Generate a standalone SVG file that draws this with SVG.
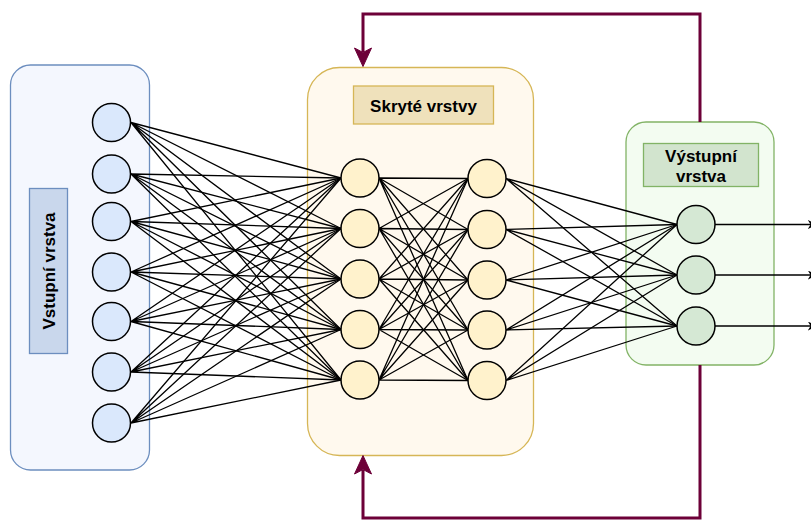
<svg xmlns="http://www.w3.org/2000/svg" width="811" height="520" viewBox="0 0 811 520">
  <defs>
    <style>
      .lbl { font-family: "Liberation Sans", Arial, sans-serif; font-weight: bold; font-size: 17px; fill: #000; text-anchor: middle; }
      .edge { fill: none; stroke: #000; stroke-width: 1.3; }
      .loop { fill: none; stroke: #6d0038; stroke-width: 3; }
      .head { fill: #6d0038; stroke: #6d0038; stroke-width: 1; }
      .in { fill: #dae8fc; stroke: #000; stroke-width: 1.5; }
      .hid { fill: #fff2cc; stroke: #000; stroke-width: 1.5; }
      .out { fill: #d5e8d4; stroke: #000; stroke-width: 1.5; }
    </style>
    <marker id="tip" viewBox="0 0 10 10" refX="9" refY="5" markerWidth="9" markerHeight="9" markerUnits="userSpaceOnUse" orient="auto">
      <path d="M0 0 L10 5 L0 10 L3 5 Z" fill="#000"/>
    </marker>
  </defs>

  <rect width="811" height="520" fill="#fff"/>

  <!-- layer containers -->
  <g id="input-layer">
    <rect x="10.5" y="65" width="139" height="405" rx="20" fill="#f4f7fe" stroke="#6c8ebf" stroke-width="1.3"/>
    <rect x="29.5" y="188.5" width="38" height="165" fill="#c9d7ec" stroke="#6c8ebf" stroke-width="1.3"/>
    <text class="lbl" transform="translate(48.5 271) rotate(-90)" x="0" y="6">Vstupní vrstva</text>
  </g>
  <g id="hidden-layers">
    <rect x="307.5" y="67.5" width="226" height="388" rx="32" fill="#fff9ee" stroke="#d6b656" stroke-width="1.3"/>
    <rect x="353.5" y="86" width="140" height="38" fill="#efe1bb" stroke="#d6b656" stroke-width="1.3"/>
    <text class="lbl" x="423.5" y="111.5">Skryté vrstvy</text>
  </g>
  <g id="output-layer">
    <rect x="626" y="122" width="148" height="243" rx="20" fill="#f3fcf1" stroke="#82b366" stroke-width="1.3"/>
    <rect x="643.5" y="143.5" width="115" height="43" fill="#d2e4ce" stroke="#82b366" stroke-width="1.3"/>
    <text class="lbl" x="701" y="161.5">Výstupní</text>
    <text class="lbl" x="701" y="181.5">vrstva</text>
  </g>

  <!-- connectors -->
  <g id="connectors">
    <!-- input -> first hidden layer -->
    <path class="edge" d="M131 122.5L341 178M131 122.5L341 228.5M131 122.5L341 279M131 122.5L341 329.5M131 122.5L341 380"/>
    <path class="edge" d="M131 174L341 178M131 174L341 228.5M131 174L341 279M131 174L341 329.5M131 174L341 380"/>
    <path class="edge" d="M131 221.5L341 178M131 221.5L341 228.5M131 221.5L341 279M131 221.5L341 329.5M131 221.5L341 380"/>
    <path class="edge" d="M131 272L341 178M131 272L341 228.5M131 272L341 279M131 272L341 329.5M131 272L341 380"/>
    <path class="edge" d="M131 321.5L341 178M131 321.5L341 228.5M131 321.5L341 279M131 321.5L341 329.5M131 321.5L341 380"/>
    <path class="edge" d="M131 372L341 178M131 372L341 228.5M131 372L341 279M131 372L341 329.5M131 372L341 380"/>
    <path class="edge" d="M131 423L341 178M131 423L341 228.5M131 423L341 279M131 423L341 329.5M131 423L341 380"/>
    <!-- first hidden -> second hidden layer -->
    <path class="edge" d="M379 178L468 178.5M379 178L468 229.5M379 178L468 280M379 178L468 330M379 178L468 380.5"/>
    <path class="edge" d="M379 228.5L468 178.5M379 228.5L468 229.5M379 228.5L468 280M379 228.5L468 330M379 228.5L468 380.5"/>
    <path class="edge" d="M379 279L468 178.5M379 279L468 229.5M379 279L468 280M379 279L468 330M379 279L468 380.5"/>
    <path class="edge" d="M379 329.5L468 178.5M379 329.5L468 229.5M379 329.5L468 280M379 329.5L468 330M379 329.5L468 380.5"/>
    <path class="edge" d="M379 380L468 178.5M379 380L468 229.5M379 380L468 280M379 380L468 330M379 380L468 380.5"/>
    <!-- second hidden -> output layer -->
    <path class="edge" d="M506 178.5L677 224.5M506 178.5L677 275M506 178.5L677 326"/>
    <path class="edge" d="M506 229.5L677 224.5M506 229.5L677 275M506 229.5L677 326"/>
    <path class="edge" d="M506 280L677 224.5M506 280L677 275M506 280L677 326"/>
    <path class="edge" d="M506 330L677 224.5M506 330L677 275M506 330L677 326"/>
    <path class="edge" d="M506 380.5L677 224.5M506 380.5L677 275M506 380.5L677 326"/>
    <!-- outputs -->
    <path class="edge" marker-end="url(#tip)" d="M715 224.5L816 224.5"/>
    <path class="edge" marker-end="url(#tip)" d="M715 275L816 275"/>
    <path class="edge" marker-end="url(#tip)" d="M715 326L816 326"/>
    <!-- feedback loops -->
    <path class="loop" d="M700 122V14H363V52"/>
    <polygon class="head" points="354.5,48 363,66.5 371.5,48 363,52.5"/>
    <path class="loop" d="M700 365V518H363V470"/>
    <polygon class="head" points="354.5,474 363,455.5 371.5,474 363,469.5"/>
  </g>

  <!-- neurons -->
  <g id="in1"><circle class="in" cx="111.5" cy="122.5" r="19"/></g>
  <g id="in2"><circle class="in" cx="111.5" cy="174" r="19"/></g>
  <g id="in3"><circle class="in" cx="111.5" cy="221.5" r="19"/></g>
  <g id="in4"><circle class="in" cx="111.5" cy="272" r="19"/></g>
  <g id="in5"><circle class="in" cx="111.5" cy="321.5" r="19"/></g>
  <g id="in6"><circle class="in" cx="111.5" cy="372" r="19"/></g>
  <g id="in7"><circle class="in" cx="111.5" cy="423" r="19"/></g>

  <g id="h1a"><circle class="hid" cx="360" cy="178" r="19"/></g>
  <g id="h1b"><circle class="hid" cx="360" cy="228.5" r="19"/></g>
  <g id="h1c"><circle class="hid" cx="360" cy="279" r="19"/></g>
  <g id="h1d"><circle class="hid" cx="360" cy="329.5" r="19"/></g>
  <g id="h1e"><circle class="hid" cx="360" cy="380" r="19"/></g>

  <g id="h2a"><circle class="hid" cx="487" cy="178.5" r="19"/></g>
  <g id="h2b"><circle class="hid" cx="487" cy="229.5" r="19"/></g>
  <g id="h2c"><circle class="hid" cx="487" cy="280" r="19"/></g>
  <g id="h2d"><circle class="hid" cx="487" cy="330" r="19"/></g>
  <g id="h2e"><circle class="hid" cx="487" cy="380.5" r="19"/></g>

  <g id="out1"><circle class="out" cx="696" cy="224.5" r="19"/></g>
  <g id="out2"><circle class="out" cx="696" cy="275" r="19"/></g>
  <g id="out3"><circle class="out" cx="696" cy="326" r="19"/></g>
</svg>
